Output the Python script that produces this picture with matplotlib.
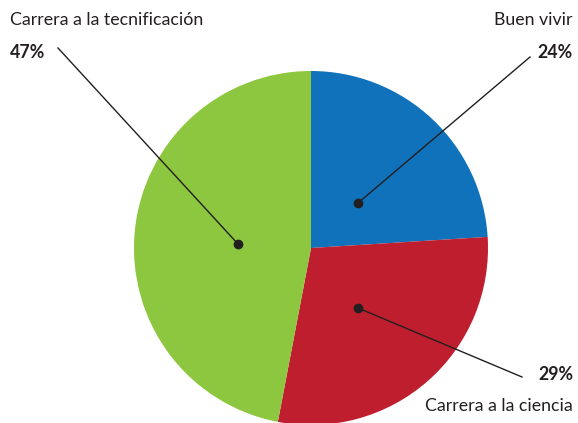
import matplotlib
matplotlib.use("Agg")
import matplotlib.pyplot as plt

plt.rcParams["font.family"] = ["Lato", "DejaVu Sans"]

labels = ["Buen vivir", "Carrera a la ciencia", "Carrera a la tecnificación"]
shares = [24, 29, 47]
colors = ["#1072ba", "#be1e2d", "#8dc63f"]
text_color = "#231f20"

W, H = 578, 423
fig = plt.figure(figsize=(W / 100, H / 100), dpi=100)
ax = fig.add_axes([0, 0, 1, 1])

cx, cy, r = 311, H - 248, 177
ax.pie(shares, colors=colors, startangle=90, counterclock=False,
       center=(cx, cy), radius=r, frame=True)
ax.set_xlim(0, W)
ax.set_ylim(0, H)
ax.set_aspect("equal")
ax.axis("off")

# dot inside slice -> end of leader line near the label
dots = [(358, 203), (358, 308), (238, 244)]
ends = [(530, 57), (522, 377), (58, 48)]
for (dx, dy), (ex, ey) in zip(dots, ends):
    ax.plot([dx, ex], [H - dy, H - ey], color=text_color, lw=1)
    ax.plot(dx, H - dy, "o", color=text_color, ms=6)

fs = 12.8
ax.text(573, H - 20, labels[0], ha="right", va="center", fontsize=fs, color=text_color)
ax.text(573, H - 52, f"{shares[0]}%", ha="right", va="center", fontsize=fs,
        fontweight="bold", color=text_color)
ax.text(573, H - 374, f"{shares[1]}%", ha="right", va="center", fontsize=fs,
        fontweight="bold", color=text_color)
ax.text(573, H - 406, labels[1], ha="right", va="center", fontsize=fs, color=text_color)
ax.text(10, H - 20, labels[2], ha="left", va="center", fontsize=fs, color=text_color)
ax.text(10, H - 52, f"{shares[2]}%", ha="left", va="center", fontsize=fs,
        fontweight="bold", color=text_color)

fig.savefig("out.png", dpi=100)
